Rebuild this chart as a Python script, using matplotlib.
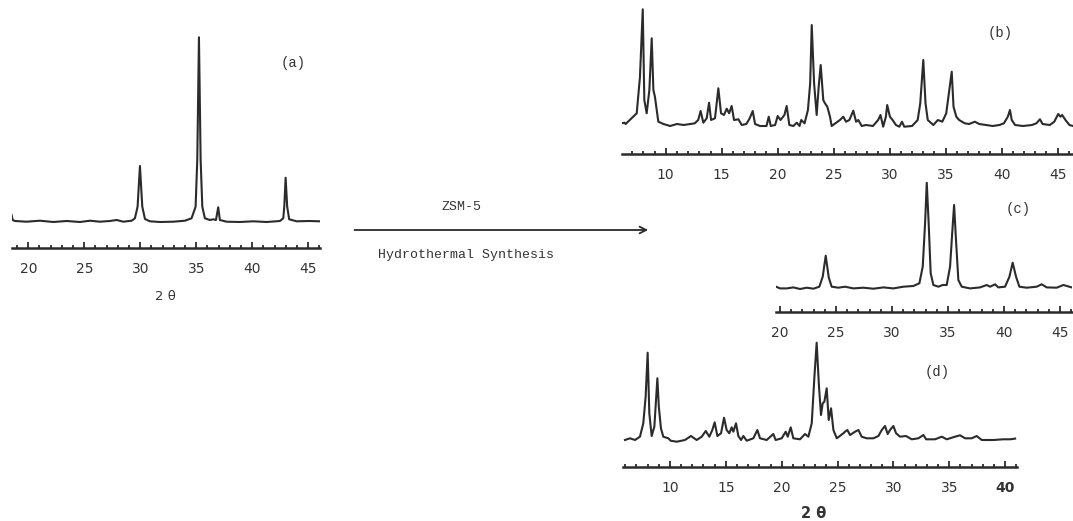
#XRD patterns of the starting oxide (a) and products after hydrothermal ZSM-5 synthesis (b)-(d)
import numpy as np
import matplotlib.pyplot as plt
from matplotlib.ticker import MultipleLocator

#Pattern (a) - 2 theta and intensity (arb. units)
a_tt = [18.51, 18.6, 18.81, 19.85, 21.04, 22.23, 23.42, 24.61, 25.51, 26.4, 27.29, 27.89, 28.48,
        29.23, 29.52, 29.76, 29.97, 30.18, 30.42, 30.86, 31.76, 32.95, 33.99, 34.58, 34.94, 35.09,
        35.24, 35.39, 35.54, 35.77, 36.22, 36.52, 36.76, 36.96, 37.11, 37.71, 38.9, 40.09, 41.28,
        42.47, 42.77, 42.86, 42.98, 43.12, 43.3, 43.96, 45.15, 45.98]
a_int = [6, 1, 0, -0.7, 0.3, -1, 0, -1, 0.3, -0.7, 0, 1, -0.7,
         0.3, 2.7, 14.3, 55, 14.3, 2, -0.3, -1, -0.7, 0.3, 2.7, 14.3, 61,
         183.7, 61, 14.3, 2.7, 1, 1.7, 1, 13.7, 1, -0.7, -1, -0.3, -1,
         0, 2.7, 14.3, 43.3, 14.3, 1.7, -0.3, 0, -0.3]

#Pattern (b)
b_tt = [6.07, 6.32, 6.42, 7.41, 7.7, 7.95, 8.09, 8.3, 8.54, 8.75, 8.9, 9.04, 9.2, 9.34,
        9.8, 10.4, 11.0, 11.6, 12.2, 12.6, 12.9, 13.12, 13.36, 13.66, 13.87, 14.05, 14.4,
        14.7, 14.94, 15.2, 15.45, 15.66, 15.89, 16.1, 16.49, 16.79, 17.2, 17.5, 17.77, 17.98,
        18.42, 19.0, 19.2, 19.38, 19.77, 20.0, 20.25, 20.6, 20.8, 21.04, 21.4, 21.7, 21.95,
        22.1, 22.4, 22.7, 22.9, 23.04, 23.25, 23.48, 23.66, 23.84, 24.07, 24.22, 24.43,
        24.67, 24.82, 25.56, 25.86, 26.1, 26.4, 26.75, 27.0, 27.2, 27.5, 27.9, 28.5, 28.97,
        29.18, 29.42, 29.66, 29.78, 30.02, 30.26, 30.56, 30.86, 31.1, 31.3, 32.0, 32.5,
        32.73, 33.0, 33.2, 33.4, 33.9, 34.3, 34.7, 35.05, 35.29, 35.54, 35.7, 35.95, 36.2,
        36.7, 37.1, 37.6, 38.0, 38.6, 39.2, 39.8, 40.2, 40.55, 40.74, 40.9, 41.2, 41.9,
        42.7, 43.1, 43.42, 43.65, 44.3, 44.7, 45.05, 45.25, 45.4, 45.7, 46.05, 46.37]
b_int = [0.7, 1.3, 0, 10.7, 47, 114.7, 24, 10.7, 34, 85.7, 34, 27, 14, 2.3,
         0, -2, 0, -1, 0, 0.7, 4, 13, 1.3, 5.7, 21.3, 4, 5.7,
         35.7, 10.7, 9, 15.3, 10.7, 18, 4, 4.7, -1, 0, 5.7, 13, 0,
         -2, -2, 7.3, -2, -1, 8, 4, 9, 18, -1, -2, 1.3, -2,
         4, 0.7, 14, 40.7, 99, 40.7, 9, 37.3, 59, 24, 20.7, 17.3,
         7.3, -2, 4, 7.3, 2.3, 4, 13.3, 2.3, 4, -2, -1, -2, 4,
         9, -2.7, 7.3, 19, 7.3, 4, -1, -2.7, 2.3, -2.7, -2, 4,
         20.7, 64, 20.7, 4, -1, 4, 2.3, 10.7, 30.7, 52.3, 17.3, 7.3, 4,
         0.7, 0, 2.3, 0, -1, -2, -1, 0.7, 7.3, 14, 4, -1, -2,
         -1, 0.7, 4.7, 0, -1, 2.3, 10, 7.3, 9, 4, -1, -2]

#Pattern (c)
c_tt = [19.64, 20.0, 20.6, 21.19, 21.79, 22.38, 22.98, 23.51, 23.81, 24.08, 24.35, 24.61,
        25.21, 25.8, 26.55, 27.44, 28.33, 29.23, 30.12, 31.01, 31.9, 32.44, 32.74, 32.95,
        33.1, 33.27, 33.45, 33.69, 34.14, 34.52, 34.88, 35.18, 35.39, 35.54, 35.71, 35.92,
        36.22, 36.96, 37.86, 38.45, 38.75, 39.2, 39.49, 40.09, 40.48, 40.77, 41.07, 41.37,
        42.02, 42.92, 43.36, 43.81, 44.7, 45.3, 46.04]
c_int = [1, -0.7, -0.7, 0.3, -1.3, 0, -1, 1, 11, 32, 10.3, 1,
         0, 1, -0.7, 0, -1, 0.3, -0.7, 1, 1.7, 4.4, 21, 64.4,
         105, 64.4, 14.4, 2.7, 1, 2.7, 2.7, 21, 57.7, 82.7, 47.7, 7.7,
         1, -0.7, 0.3, 2.7, 1, 3.4, 0.3, 1, 11, 25, 11, 1,
         0, 1, 3.4, 0.3, 0, 2.7, 0.3]

#Pattern (d)
d_tt = [5.97, 6.42, 6.87, 7.31, 7.61, 7.82, 8.0, 8.15, 8.36, 8.6, 8.75, 8.87, 9.0, 9.19,
        9.4, 9.85, 10.06, 10.6, 11.34, 11.88, 12.39, 12.84, 13.2, 13.52, 13.79, 14.0, 14.24,
        14.57, 14.84, 15.07, 15.31, 15.52, 15.67, 15.91, 16.12, 16.36, 16.57, 16.87, 17.46,
        17.82, 18.06, 18.66, 19.25, 19.46, 20.0, 20.36, 20.54, 20.81, 21.04, 21.64, 22.09,
        22.39, 22.69, 22.93, 23.13, 23.34, 23.52, 23.67, 23.82, 24.03, 24.21, 24.42, 24.63,
        24.93, 25.52, 25.67, 25.88, 26.12, 26.57, 26.87, 27.16, 27.61, 28.21, 28.66, 28.96,
        29.25, 29.49, 29.7, 30.0, 30.24, 30.6, 31.13, 31.64, 32.24, 32.69, 32.93, 33.73,
        34.33, 34.78, 35.52, 35.97, 36.42, 37.01, 37.46, 37.91, 38.96, 39.85, 40.45, 40.9]
d_int = [-0.7, 1, -0.7, 2.6, 16, 42.6, 86.6, 26, 3.3, 12.6, 39.3, 61, 32.6, 11,
         2.6, 1, -1.4, -2.4, -0.7, 3.3, -0.7, 2.6, 8.3, 2.6, 9.3, 17, 3.3,
         6, 21.6, 9.3, 6, 12, 7.6, 16, 3.3, -0.7, 3.3, -1.4, 1,
         9.3, 1, -0.7, 5.3, -0.7, 1, 7.6, 2.6, 12, 1, 0, 5.3,
         2.6, 16, 62.6, 96.6, 52.6, 24.3, 36, 37.6, 51, 19.3, 31, 9.3,
         1, 6, 7.6, 9.3, 4.3, 7.6, 9.3, 2.6, 1, 1, 3.3, 9.3,
         13.3, 5.3, 9.3, 13.3, 6, 2.6, 3.3, 0, 1, 4.3, 0, 0,
         2.6, 0, 2.6, 4, 1, 1, 3.3, -0.7, -0.7, 0, 0, 0.7]

#Tick labels for each pattern
a_labels = [20, 25, 30, 35, 40, 45]
b_labels = [10, 15, 20, 25, 30, 35, 40, 45]
c_labels = [20, 25, 30, 35, 40, 45]
d_labels = [10, 15, 20, 25, 30, 35, 40]

W, H = 1073, 521
ink = '#2b2b2b'
mono = ['Liberation Mono', 'DejaVu Sans Mono']

fig = plt.figure(figsize=(W / 100, H / 100), dpi=100)

def px_axes(left, right, bottom, top):
    #axes placed in pixel coordinates of the scanned figure
    return fig.add_axes([left / W, 1 - bottom / H, (right - left) / W, (bottom - top) / H])

def pattern(ax, tt, inten, labels, xlim, ylim, bold_last=False):
    ax.plot(tt, inten, color=ink, lw=1.5, solid_joinstyle='round')
    ax.set_xlim(xlim)
    ax.set_ylim(ylim)
    for s in ['top', 'left', 'right']:
        ax.spines[s].set_visible(False)
    ax.spines['bottom'].set_linewidth(1.8)
    ax.spines['bottom'].set_color(ink)
    ax.patch.set_alpha(0)
    ax.set_yticks([])
    ax.set_xticks(labels)
    ax.xaxis.set_minor_locator(MultipleLocator(1))
    ax.tick_params(axis='x', which='major', direction='in', length=4.5, width=1.3,
                   color=ink, pad=10, labelsize=10, labelcolor='#333333')
    ax.tick_params(axis='x', which='minor', direction='in', length=2.2, width=1.3, color=ink)
    if bold_last:
        ax.get_xticklabels()[-1].set_fontweight('bold')

ax_a = px_axes(11.5, 320, 248, 35)
pattern(ax_a, a_tt, a_int, a_labels, (18.5, 46.05), (-27, 186))

ax_b = px_axes(621.7, 1073, 154, 7)
pattern(ax_b, b_tt, b_int, b_labels, (6.07, 46.37), (-30, 117))

ax_c = px_axes(776, 1071.7, 311.7, 181.7)
pattern(ax_c, c_tt, c_int, c_labels, (19.64, 46.04), (-24, 106))

ax_d = px_axes(623.3, 1016.7, 466.7, 339.3)
pattern(ax_d, d_tt, d_int, d_labels, (5.82, 41.04), (-27.4, 100), bold_last=True)

#Panel letters
fig.text(293 / W, 1 - 63 / H, '(a)', family=mono, fontsize=10, color='#333333', ha='center', va='center')
fig.text(1000 / W, 1 - 33 / H, '(b)', family=mono, fontsize=10, color='#333333', ha='center', va='center')
fig.text(1018 / W, 1 - 209 / H, '(c)', family=mono, fontsize=10, color='#333333', ha='center', va='center')
fig.text(937 / W, 1 - 372 / H, '(d)', family=mono, fontsize=10, color='#333333', ha='center', va='center')

#Axis titles
fig.text(165 / W, 1 - 296 / H, '2 θ', fontsize=9.5, color='#333333', ha='center', va='center')
fig.text(814 / W, 1 - 513 / H, '2 θ', fontsize=10.5, fontweight='bold', color='#333333', ha='center', va='center')

#Synthesis arrow
fig.text(462 / W, 1 - 207 / H, 'ZSM-5', family=mono, fontsize=9.5, color='#333333', ha='center', va='center')
fig.text(378 / W, 1 - 255 / H, 'Hydrothermal Synthesis', family=mono, fontsize=9.5, color='#333333', ha='left', va='center')
fig.patches.append(plt.matplotlib.patches.FancyArrowPatch((351.7 / W, 1 - 230 / H), (651 / W, 1 - 230 / H),
                   transform=fig.transFigure, arrowstyle='->', mutation_scale=12, lw=1.3, color=ink))

fig.savefig('out.png', dpi=100)
plt.close()
